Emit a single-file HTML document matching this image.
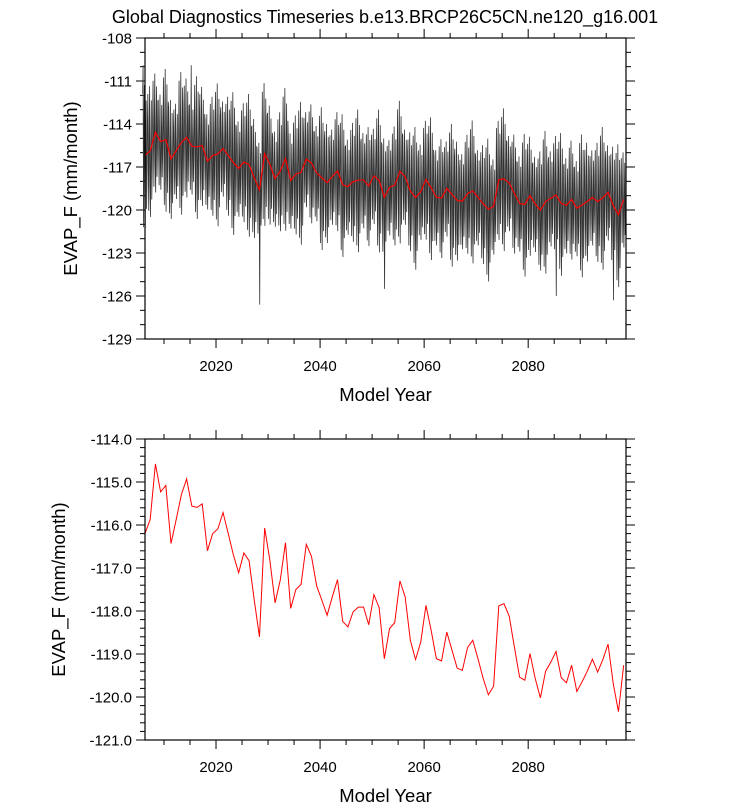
<!DOCTYPE html>
<html><head><meta charset="utf-8"><style>
body{margin:0;background:#fff;}
svg{display:block;font-family:"Liberation Sans",Arial,sans-serif;}
</style></head><body>
<svg id="c" width="732" height="812" viewBox="0 0 732 812" xmlns="http://www.w3.org/2000/svg">
<text x="385" y="23" font-size="18" text-anchor="middle">Global Diagnostics Timeseries b.e13.BRCP26C5CN.ne120_g16.001</text>
<g id="top"></g>
<g id="bot"></g>
</svg>
<script>
// annual mean EVAP_F, years 2006..2098
const startYear = 2006;
const annual = [-116.20,-115.87,-114.58,-115.23,-115.08,-116.43,-115.87,-115.29,-114.93,-115.56,
-115.59,-115.51,-116.60,-116.20,-116.09,-115.71,-116.20,-116.70,-117.11,-116.65,
-116.83,-117.75,-118.60,-116.07,-116.82,-117.81,-117.28,-116.41,-117.94,-117.50,
-117.38,-116.45,-116.73,-117.42,-117.75,-118.10,-117.67,-117.27,-118.24,-118.37,
-118.02,-117.91,-117.91,-118.32,-117.62,-117.92,-119.11,-118.41,-118.27,-117.30,
-117.67,-118.68,-119.13,-118.72,-117.87,-118.45,-119.11,-119.16,-118.49,-118.91,
-119.33,-119.38,-118.85,-118.68,-119.11,-119.57,-119.95,-119.75,-117.88,-117.83,
-118.12,-118.84,-119.54,-119.61,-118.99,-119.57,-120.02,-119.40,-119.19,-118.94,
-119.55,-119.67,-119.26,-119.87,-119.65,-119.40,-119.12,-119.42,-119.13,-118.77,
-119.69,-120.34,-119.26];
// seasonal anomaly pattern (per month) and per-year amplitude scale, estimated
const seasonal = [3.6,-1.2,-3.8,1.4,4.1,-2.3,-4.2,0.6,3.2,-3.1,-1.4,2.2];
const ampScale = [1.2,1.1,1.0,0.8,1.2,1.0,0.8,1.2,1.0,0.8,1.2,1.0,0.8,1.0,1.2,0.8,1.0,1.2,0.8,1.0,
1.2,1.0,0.8,1.2,1.0,0.8,1.0,1.2,0.8,1.0,1.2,0.8,1.0,0.8,1.2,1.0,0.8,1.0,1.2,0.8,
1.0,1.2,0.8,1.0,0.8,1.2,1.0,0.8,1.0,1.2,0.8,1.0,1.2,0.8,1.0,1.2,0.8,1.0,0.8,1.2,
1.0,0.8,1.0,1.2,0.8,1.0,1.2,0.8,1.0,1.2,0.8,1.0,0.8,1.2,1.0,0.8,1.0,1.2,0.8,1.0,
1.2,0.8,1.0,0.8,1.2,1.0,0.8,1.0,1.2,0.8,1.0,1.2,0.8];
// notable monthly extremes [year, month, value]
const spikes = [[2006,1,-109.9],[2006,2,-121.2],[2015,4,-109.9],[2028,6,-126.6],[2052,6,-125.5],[2085,6,-126.0],[2096,6,-126.3]];
const topTicks = [-108,-111,-114,-117,-120,-123,-126,-129];
const botTicks = [-114.0,-115.0,-116.0,-117.0,-118.0,-119.0,-120.0,-121.0];
const xTicks = [2020,2040,2060,2080];

const NS="http://www.w3.org/2000/svg";
function mk(tag,attrs,parent){const e=document.createElementNS(NS,tag);for(const k in attrs)e.setAttribute(k,attrs[k]);parent.appendChild(e);return e;}
const X0=145,X1=626,XMIN=2006.35,XMAX=2098.8;
const sx=v=>X0+(v-XMIN)/(XMAX-XMIN)*(X1-X0);

function axes(g,Y0,Y1,ymin,ymax,ticks,minorStep,fmt,ytitleX){
  const sy=v=>Y1-(v-ymin)/(ymax-ymin)*(Y1-Y0);
  const ax=mk('g',{stroke:'#000','stroke-width':1},g);
  
  
  for(let yr=2010;yr<=2095;yr+=5){
    const major=yr%20===0, L=major?9:5, x=sx(yr);
    mk('line',{x1:x,x2:x,y1:Y0,y2:Y0-L},ax);
    mk('line',{x1:x,x2:x,y1:Y1,y2:Y1+L},ax);
  }
  for(let v=ymin;v<=ymax+1e-6;v+=minorStep){
    const y=sy(v);
    mk('line',{x1:X0,x2:X0-5,y1:y,y2:y},ax);
    mk('line',{x1:X1,x2:X1+5,y1:y,y2:y},ax);
  }
  ticks.forEach(t=>{
    const y=sy(t);
    mk('line',{x1:X0,x2:X0-9,y1:y,y2:y},ax);
    mk('line',{x1:X1,x2:X1+9,y1:y,y2:y},ax);
    const tx=mk('text',{x:X0-13,y:y+5.5,'font-size':15,'text-anchor':'end'},g);
    tx.textContent=fmt(t);
    
    
  });
  xTicks.forEach(t=>{
    const tx=mk('text',{x:sx(t),y:Y1+32,'font-size':15,'text-anchor':'middle'},g);
    tx.textContent=t;
    
    
  });
  const xt=mk('text',{x:(X0+X1)/2,y:Y1+62,'font-size':18.5,'text-anchor':'middle'},g);
  xt.textContent='Model Year';
  
  
  const cy=(Y0+Y1)/2;
  const yt=mk('text',{x:ytitleX,y:cy,'font-size':18.5,'text-anchor':'middle',transform:`rotate(-90 ${ytitleX} ${cy})`},g);
  yt.textContent='EVAP_F (mm/month)';
  
  
  return sy;
}

// top chart
const gt=document.getElementById('top');
const TY0=38,TY1=339;
const syT=axes(gt,TY0,TY1,-129,-108,topTicks,1,v=>String(v),77);
let pts=[];
annual.forEach((a,i)=>{
  const yr=startYear+i;
  for(let m=0;m<12;m++){
    let v=a+seasonal[m]*ampScale[i];
    spikes.forEach(s=>{if(s[0]===yr&&s[1]===m)v=s[2];});
    pts.push(sx(yr+0.35+m/12-0.45).toFixed(2)+','+syT(v).toFixed(2));
  }
});
const ml=mk('polyline',{points:pts.join(' '),fill:'none',stroke:'#333','stroke-width':0.8},gt);


const rt=mk('polyline',{points:annual.map((a,i)=>sx(startYear+i+0.35).toFixed(2)+','+syT(a).toFixed(2)).join(' '),fill:'none',stroke:'#f00','stroke-width':1.2},gt);


const ft=mk('rect',{x:X0,y:TY0,width:X1-X0,height:TY1-TY0,fill:'none',stroke:'#000','stroke-width':1.2},gt);



// bottom chart
const gb=document.getElementById('bot');
const BY0=439,BY1=740;
const syB=axes(gb,BY0,BY1,-121,-114,botTicks,0.2,v=>v.toFixed(1),65);
const rb=mk('polyline',{points:annual.map((a,i)=>sx(startYear+i+0.35).toFixed(2)+','+syB(a).toFixed(2)).join(' '),fill:'none',stroke:'#f00','stroke-width':1},gb);


const fb=mk('rect',{x:X0,y:BY0,width:X1-X0,height:BY1-BY0,fill:'none',stroke:'#000','stroke-width':1.2},gb);


</script>
</body></html>
